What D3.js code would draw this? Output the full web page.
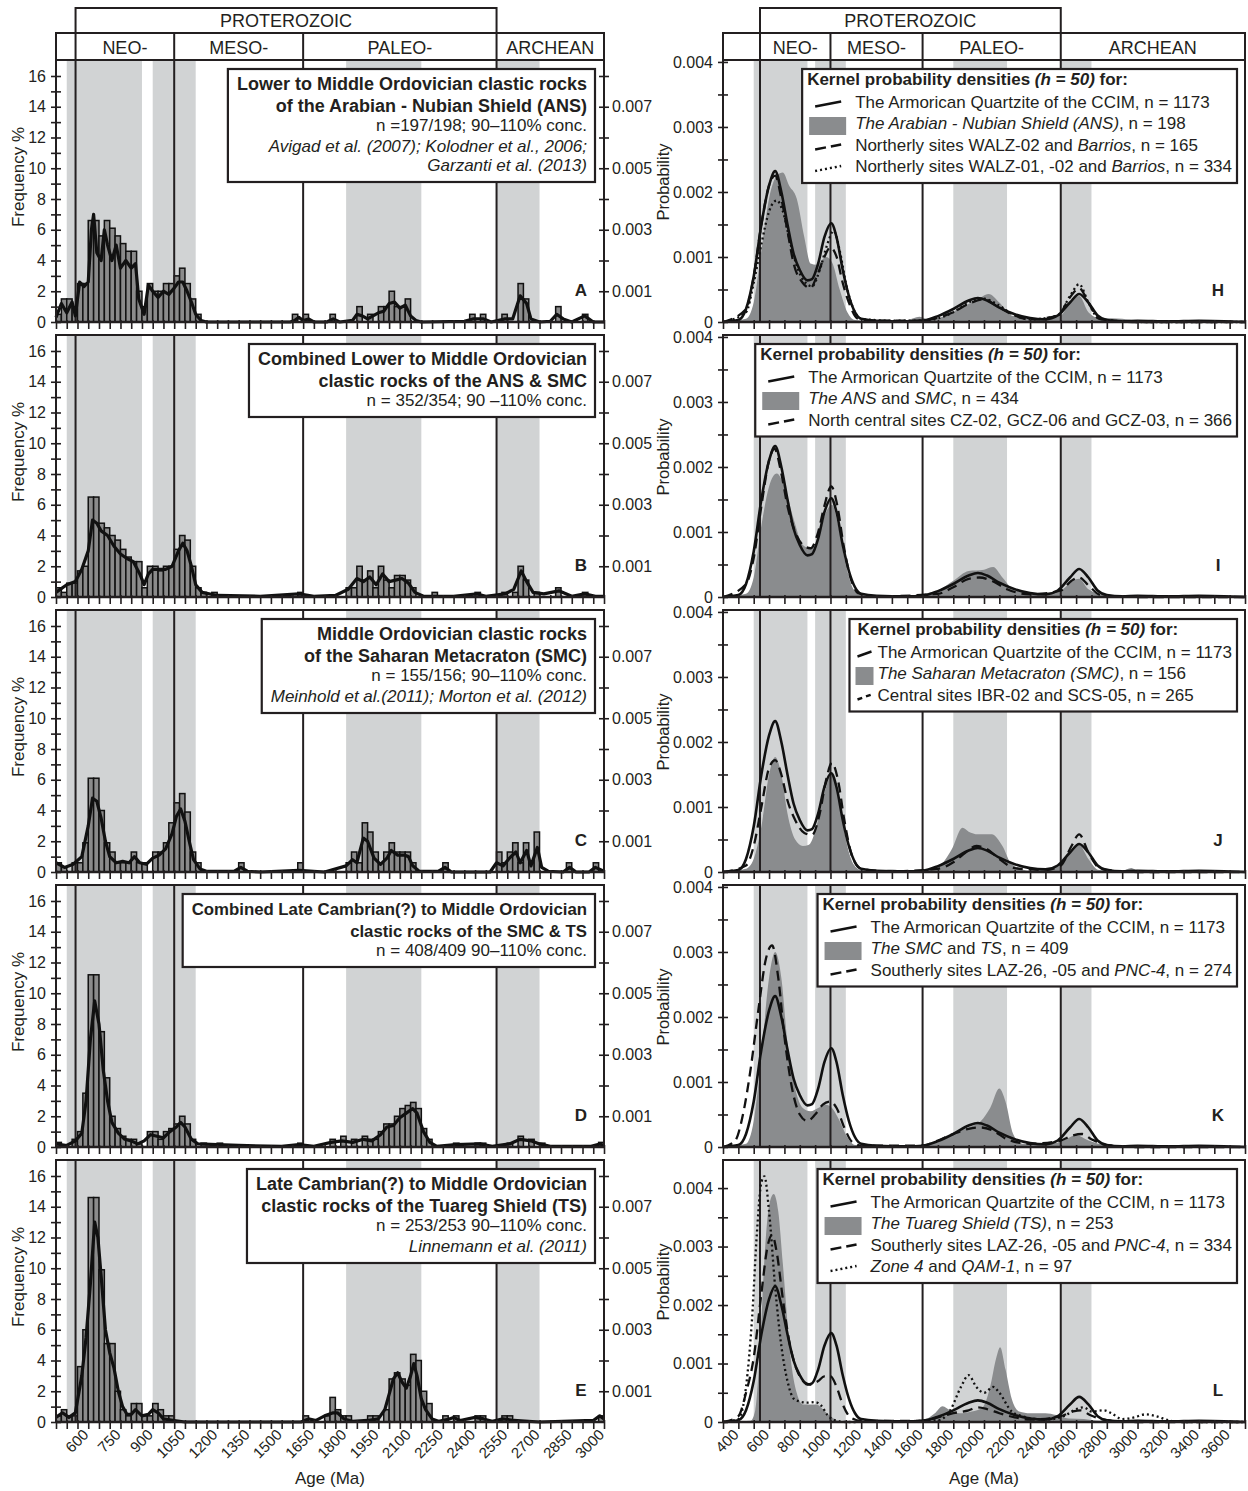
<!DOCTYPE html>
<html>
<head>
<meta charset="utf-8">
<script src="https://cdn.jsdelivr.net/npm/d3@7"></script>
<style>
  body { margin: 0; background: #fff; }
  svg text { font-family: "Liberation Sans", Arial, Helvetica, sans-serif; fill: #231f20; }
</style>
</head>
<body>
<svg width="1248" height="1491"></svg>
<script>
// ---------- data ----------
const bands = [[500, 850], [900, 1100], [1800, 2150], [2500, 2700]];
const boundaries = [541, 1000, 1600, 2500];
const eraCells = [["NEO-", 541, 1000], ["MESO-", 1000, 1600], ["PALEO-", 1600, 2500], ["ARCHEAN", 2500, null]];
const binWidth = 25;

// histogram bins: [bin start (Ma), frequency %]
const histA = [[450,0.5],[475,1.5],[500,1.5],[525,1.0],[550,2.5],[575,2.5],[600,6.6],[625,6.6],[650,5.6],[675,6.6],[700,6.1],[725,5.6],[750,5.1],[775,4.6],[800,4.6],[825,2.0],[850,1.0],[875,2.5],[900,2.0],[925,2.0],[950,2.5],[975,2.5],[1000,3.0],[1025,3.5],[1050,2.5],[1075,1.5],[1100,0.5],[1550,0.5],[1600,0.5],[1725,0.5],[1850,1.0],[1900,0.5],[1950,1.0],[1975,1.0],[2000,2.0],[2025,1.0],[2050,1.0],[2075,1.5],[2375,0.5],[2425,0.5],[2525,0.5],[2600,2.5],[2625,1.5],[2775,1.0],[2900,0.5]];
const histB = [[450,0.6],[475,0.3],[500,0.9],[525,0.9],[550,1.7],[575,2.0],[600,6.5],[625,6.5],[650,4.8],[675,4.5],[700,4.0],[725,3.7],[750,3.1],[775,2.6],[800,2.3],[825,2.3],[850,0.6],[875,2.0],[900,2.0],[925,1.7],[950,2.0],[975,2.0],[1000,3.1],[1025,4.0],[1050,3.7],[1075,2.0],[1100,0.6],[1125,0.3],[1175,0.3],[1575,0.3],[1800,0.6],[1825,0.6],[1850,2.0],[1875,1.1],[1900,1.7],[1925,0.6],[1950,2.0],[1975,1.1],[2000,0.6],[2025,1.4],[2050,1.4],[2075,1.1],[2100,0.6],[2200,0.3],[2400,0.3],[2525,0.3],[2575,0.3],[2600,2.0],[2625,1.1],[2675,0.3],[2775,0.6],[2900,0.3]];
const histC = [[450,0.6],[475,0.3],[525,0.6],[550,0.6],[575,1.9],[600,6.1],[625,6.1],[650,4.0],[675,1.9],[700,1.3],[725,0.6],[750,0.6],[775,0.6],[800,1.3],[825,0.6],[850,0.6],[900,1.3],[925,1.3],[950,1.9],[975,3.2],[1000,4.5],[1025,5.1],[1050,3.9],[1075,1.3],[1100,0.6],[1300,0.6],[1575,0.6],[1800,0.6],[1825,1.3],[1850,0.6],[1875,3.2],[1900,2.6],[1925,1.3],[1950,0.6],[1975,1.3],[2000,1.9],[2025,1.3],[2050,1.3],[2075,1.3],[2100,0.6],[2250,0.6],[2500,1.3],[2525,0.6],[2550,1.3],[2575,1.9],[2600,0.6],[2625,1.9],[2650,0.6],[2675,2.6],[2825,0.6],[2950,0.6]];
const histD = [[450,0.3],[525,0.5],[550,1.0],[575,3.5],[600,11.2],[625,11.2],[650,7.5],[675,4.5],[700,2.0],[725,1.2],[750,0.7],[775,0.5],[800,0.5],[825,0.2],[875,1.0],[900,1.0],[925,0.5],[950,1.0],[975,1.2],[1000,1.5],[1025,2.0],[1050,1.5],[1075,0.5],[1125,0.25],[1200,0.25],[1575,0.25],[1725,0.5],[1775,0.7],[1825,0.5],[1875,0.7],[1900,0.5],[1925,0.5],[1950,1.0],[1975,1.5],[2000,1.5],[2025,2.0],[2050,2.5],[2075,2.7],[2100,2.9],[2125,2.5],[2150,1.2],[2175,0.5],[2300,0.25],[2400,0.25],[2425,0.25],[2550,0.25],[2600,0.7],[2650,0.5],[2700,0.25],[2975,0.3]];
const histE = [[450,0.4],[475,0.8],[500,0.4],[525,0.4],[550,3.6],[575,6.0],[600,14.6],[625,14.6],[650,9.9],[675,5.1],[700,5.1],[725,2.0],[750,0.8],[775,0.4],[800,1.2],[825,1.2],[850,0.4],[875,0.4],[900,1.2],[925,0.8],[950,0.4],[975,0.4],[1600,0.4],[1700,0.4],[1725,1.6],[1750,0.8],[1775,0.4],[1800,0.4],[1900,0.4],[1925,0.4],[1975,0.8],[2000,2.8],[2025,3.2],[2050,2.8],[2075,2.4],[2100,4.4],[2125,4.0],[2150,2.0],[2175,1.2],[2250,0.4],[2300,0.4],[2400,0.4],[2425,0.4],[2525,0.4],[2550,0.4],[2975,0.4]];

// probability density lines of the histograms, read against the frequency axis
const lineA = [[450,0.3],[475,1.2],[500,0.6],[525,1.3],[540,0.4],[560,2.6],[580,2.3],[600,2.6],[615,6.0],[625,7.0],[640,4.5],[660,4.0],[675,6.0],[690,5.0],[710,4.0],[730,5.0],[750,3.5],[775,4.0],[800,3.5],[820,3.8],[835,1.5],[860,0.5],[880,2.4],[900,2.0],[925,1.6],[950,2.0],[975,1.8],[1000,2.2],[1020,2.6],[1040,2.6],[1060,2.0],[1080,1.3],[1100,0.5],[1125,0.1],[1150,0],[1540,0],[1560,0.1],[1580,0.3],[1600,0.1],[1625,0.2],[1650,0],[1710,0],[1740,0.2],[1770,0],[1830,0.1],[1850,0.5],[1875,0.4],[1900,0.2],[1925,0.4],[1950,0.6],[1975,0.7],[2000,1.2],[2025,1.3],[2050,0.9],[2075,1.1],[2100,0.4],[2125,0.1],[2150,0],[2350,0.05],[2390,0.2],[2440,0.2],[2475,0],[2540,0.2],[2575,0.2],[2610,1.7],[2640,1.2],[2660,0.2],[2700,0],[2750,0.05],[2780,0.5],[2810,0.2],[2850,0],[2910,0.4],[2950,0],[3000,0]];
const lineB = [[450,0.3],[500,0.8],[540,1.0],[570,1.8],[600,3.0],[620,5.0],[640,4.8],[660,4.3],[690,4.0],[720,3.3],[750,2.8],[780,2.5],[810,2.3],[840,1.5],[860,0.8],[880,1.5],[900,1.8],[930,1.8],[960,1.8],[990,2.0],[1020,3.0],[1040,3.5],[1060,3.0],[1080,2.0],[1100,0.8],[1130,0.3],[1200,0.1],[1400,0.05],[1580,0.2],[1650,0.05],[1750,0.1],[1810,0.5],[1850,1.2],[1880,1.0],[1910,1.3],[1940,0.8],[1970,1.5],[2000,1.0],[2030,1.1],[2060,1.2],[2090,0.9],[2120,0.3],[2160,0.05],[2300,0.05],[2410,0.2],[2450,0.05],[2540,0.2],[2580,0.5],[2615,1.7],[2640,1.0],[2670,0.3],[2720,0.2],[2790,0.4],[2850,0.05],[2910,0.2],[2960,0.05],[3000,0.05]];
const lineC = [[450,0.6],[490,0.3],[530,0.5],[570,1.0],[600,3.0],[620,4.8],[640,4.6],[660,3.5],[680,2.0],[700,1.0],[730,0.6],[760,0.7],[790,0.6],[815,1.0],[840,0.6],[870,0.5],[900,0.9],[930,1.1],[960,1.5],[990,2.5],[1010,3.6],[1030,4.1],[1050,3.3],[1070,2.0],[1090,0.8],[1120,0.2],[1150,0.05],[1280,0.05],[1310,0.3],[1340,0.05],[1400,0],[1580,0.1],[1700,0],[1800,0.4],[1830,0.8],[1850,0.6],[1880,2.2],[1900,2.0],[1930,0.9],[1960,0.5],[1990,0.9],[2010,1.4],[2040,1.1],[2070,1.1],[2090,1.0],[2110,0.4],[2140,0.05],[2230,0.05],[2260,0.3],[2290,0],[2470,0],[2500,0.6],[2530,0.4],[2560,0.9],[2590,1.3],[2610,0.6],[2640,1.4],[2660,0.4],[2690,1.6],[2710,0.3],[2740,0.05],[2810,0],[2840,0.3],[2870,0],[2930,0],[2960,0.3],[3000,0.05]];
const lineD = [[450,0.2],[500,0.1],[540,0.4],[570,0.9],[590,3.0],[610,7.0],[630,9.5],[650,8.0],[670,5.0],[690,3.0],[710,1.6],[740,0.9],[770,0.5],[800,0.4],[830,0.2],[860,0.4],[890,0.8],[920,0.7],[950,0.6],[980,1.0],[1010,1.3],[1030,1.6],[1050,1.3],[1080,0.5],[1110,0.2],[1200,0.15],[1300,0.1],[1500,0.05],[1580,0.15],[1650,0.05],[1730,0.3],[1780,0.4],[1830,0.3],[1880,0.5],[1920,0.4],[1960,0.8],[1990,1.3],[2020,1.4],[2050,1.9],[2080,2.2],[2110,2.5],[2130,2.2],[2160,1.0],[2190,0.3],[2220,0.05],[2310,0.15],[2420,0.2],[2480,0.05],[2560,0.2],[2610,0.5],[2660,0.4],[2700,0.2],[2750,0.05],[2940,0.05],[2980,0.2],[3000,0.1]];
const lineE = [[450,0.3],[480,0.6],[510,0.3],[540,0.6],[570,3.0],[590,5.5],[610,9.0],[630,13.0],[645,12.0],[660,9.5],[680,6.0],[700,4.5],[720,3.5],[740,2.0],[760,1.0],[780,0.5],[800,0.5],[820,0.8],[850,0.4],[880,0.5],[900,0.8],[925,0.6],[950,0.2],[1000,0.1],[1050,0],[1590,0],[1625,0.2],[1660,0.1],[1700,0.4],[1740,0.6],[1760,0.6],[1790,0.2],[1830,0.05],[1900,0.1],[1950,0.2],[1980,0.8],[2000,1.8],[2020,2.8],[2040,3.2],[2060,2.6],[2080,2.2],[2100,3.0],[2115,3.8],[2130,3.0],[2150,1.5],[2170,0.8],[2200,0.2],[2230,0.05],[2270,0.15],[2300,0.3],[2330,0.1],[2400,0.3],[2440,0.2],[2480,0.05],[2530,0.2],[2580,0.1],[2700,0],[2950,0.1],[2980,0.4],[3000,0.2]];

// kernel density estimates: [age (Ma), probability]
const kdeCCIM = [[300,0],[400,0.00003],[450,0.0002],[500,0.0007],[550,0.0015],[600,0.0021],[640,0.00232],[680,0.002],[720,0.0015],[760,0.00105],[800,0.0008],[850,0.00064],[880,0.00066],[920,0.0009],[960,0.0013],[1005,0.00152],[1040,0.0013],[1080,0.0008],[1120,0.0004],[1160,0.00015],[1200,0.00005],[1300,0.00002],[1500,0.00001],[1600,0.00002],[1700,0.00009],[1800,0.0002],[1900,0.00033],[1960,0.00037],[2020,0.00033],[2100,0.00022],[2200,0.00012],[2300,0.00006],[2400,0.00004],[2480,0.0001],[2560,0.0003],[2620,0.00043],[2680,0.0003],[2740,0.0001],[2800,0.00003],[2900,0.00001],[3000,0.00002],[3200,0.00001],[3400,0.00002],[3700,0]];
const kdeANS = [[300,0],[450,0.00005],[500,0.0003],[550,0.0011],[600,0.0019],[650,0.00225],[690,0.0023],[730,0.0021],[780,0.0019],[830,0.0013],[870,0.0009],[910,0.00088],[970,0.001],[1010,0.00092],[1060,0.0005],[1110,0.00015],[1160,0.00003],[1300,0.00001],[1500,0.00003],[1580,0.00008],[1650,0.00003],[1750,0.0001],[1850,0.00022],[1950,0.00033],[2030,0.00043],[2100,0.0003],[2180,0.0001],[2300,0.00005],[2400,0.00006],[2500,0.0001],[2560,0.0003],[2620,0.0004],[2680,0.00015],[2750,0.00006],[2900,0.00005],[3000,0.00002],[3700,0]];
const kdeWALZ02 = [[300,0],[450,0.0002],[500,0.0007],[550,0.0015],[600,0.0021],[640,0.00225],[680,0.0019],[720,0.0014],[760,0.0009],[820,0.0006],[870,0.00052],[910,0.0007],[960,0.001],[1000,0.00115],[1040,0.001],[1080,0.0006],[1120,0.0003],[1180,0.00005],[1300,0.00002],[1550,0.00002],[1800,0.00015],[1900,0.00028],[2000,0.00035],[2080,0.00025],[2200,0.0001],[2300,0.00004],[2480,0.0001],[2560,0.00038],[2620,0.00052],[2680,0.0003],[2750,0.00005],[3000,0],[3700,0]];
const kdeWALZ01 = [[300,0],[450,0.00015],[500,0.0006],[550,0.0012],[600,0.0017],[650,0.00187],[690,0.0017],[740,0.0012],[790,0.0008],[840,0.0006],[880,0.00055],[930,0.0008],[980,0.0012],[1020,0.0014],[1060,0.0011],[1100,0.0006],[1150,0.0002],[1200,0.00005],[1400,0.00002],[1600,0.00002],[1800,0.00015],[1900,0.0003],[2000,0.00036],[2080,0.00028],[2200,0.0001],[2300,0.00004],[2480,0.0001],[2560,0.0004],[2620,0.00058],[2680,0.0003],[2750,0.00005],[3000,0],[3700,0]];
const kdeANSSMC = [[300,0],[450,0.00005],[500,0.0003],[550,0.0011],[600,0.0017],[650,0.0019],[700,0.0017],[760,0.0012],[820,0.0008],[870,0.00075],[920,0.0009],[970,0.0013],[1010,0.00142],[1050,0.0011],[1100,0.0005],[1150,0.00012],[1200,0.00003],[1500,0.00002],[1600,0.00005],[1700,0.0001],[1800,0.00025],[1900,0.0004],[2000,0.00042],[2060,0.00046],[2120,0.0003],[2200,0.0001],[2400,0.00005],[2500,0.0001],[2580,0.00025],[2620,0.00028],[2680,0.00012],[2800,0.00003],[3000,0.00002],[3700,0]];
const kdeNorthCentral = [[300,0],[450,0.0002],[500,0.0006],[550,0.0014],[600,0.0021],[635,0.00228],[680,0.0019],[720,0.0014],[770,0.001],[820,0.0008],[870,0.00075],[920,0.001],[960,0.0014],[1005,0.0017],[1045,0.0014],[1085,0.0008],[1130,0.0003],[1180,0.00006],[1300,0.00001],[1700,0.00005],[1800,0.00015],[1900,0.00028],[1970,0.0003],[2050,0.00025],[2150,0.00012],[2300,0.00004],[2500,0.0001],[2570,0.00025],[2620,0.0003],[2680,0.00018],[2760,0.00003],[3000,0],[3700,0]];
const kdeSMC = [[300,0],[450,0.00005],[500,0.0002],[550,0.0007],[600,0.0015],[640,0.00177],[680,0.0015],[720,0.0009],[770,0.0005],[820,0.0004],[860,0.00042],[920,0.0008],[970,0.0013],[1010,0.0015],[1050,0.0012],[1100,0.0005],[1150,0.00012],[1200,0.00003],[1300,0.00002],[1400,0.00004],[1500,0.00001],[1600,0.00003],[1700,0.00008],[1790,0.00035],[1860,0.00068],[1900,0.00062],[1960,0.00058],[2050,0.00058],[2120,0.0004],[2180,0.00012],[2300,0.00002],[2480,0.00008],[2560,0.00032],[2620,0.00042],[2680,0.0002],[2750,0.00003],[2900,0.00002],[2960,0.00006],[3000,0.00002],[3700,0]];
const kdeCentral = [[300,0],[450,0.0001],[500,0.0004],[550,0.001],[600,0.0016],[640,0.00172],[680,0.0015],[720,0.0011],[770,0.0008],[830,0.0006],[880,0.00057],[930,0.0009],[970,0.0014],[1010,0.00168],[1050,0.0014],[1090,0.0008],[1140,0.00025],[1200,0.00005],[1400,0.00001],[1700,0.00005],[1800,0.00015],[1880,0.0003],[1950,0.0004],[2020,0.00035],[2100,0.0002],[2200,0.00006],[2400,0.00003],[2500,0.0001],[2570,0.0004],[2620,0.00058],[2680,0.0003],[2760,0.00005],[3000,0],[3700,0]];
const kdeSMCTS = [[300,0],[450,0.00005],[500,0.0004],[550,0.0014],[600,0.0026],[640,0.003],[680,0.0026],[720,0.0016],[770,0.0009],[820,0.0006],[870,0.00055],[920,0.0006],[970,0.00065],[1010,0.0006],[1060,0.0004],[1110,0.00015],[1160,0.00003],[1400,0.00002],[1600,0.00003],[1700,0.0001],[1800,0.0002],[1900,0.0003],[1980,0.0004],[2040,0.0006],[2100,0.0009],[2140,0.0007],[2190,0.0002],[2250,0.00005],[2400,0.00004],[2500,0.00008],[2600,0.00018],[2680,0.0001],[2800,0.00003],[3000,0.00002],[3700,0]];
const kdeSouth274 = [[300,0],[380,0.0001],[430,0.0005],[480,0.0012],[530,0.0021],[580,0.0029],[620,0.0031],[660,0.0026],[700,0.0017],[750,0.0009],[800,0.0005],[850,0.0004],[900,0.0005],[950,0.00065],[1000,0.0007],[1040,0.0006],[1090,0.0003],[1140,0.00008],[1200,0.00002],[1600,0.00002],[1700,0.0001],[1800,0.0002],[1900,0.00028],[1980,0.0003],[2060,0.00025],[2150,0.00012],[2300,0.00005],[2500,0.0001],[2580,0.00018],[2640,0.0002],[2700,0.00012],[2800,0.00003],[3000,0],[3700,0]];
const kdeTS = [[300,0],[480,0.00002],[510,0.0002],[540,0.0012],[570,0.0028],[600,0.0037],[630,0.0039],[660,0.0036],[690,0.0027],[720,0.0017],[750,0.0009],[780,0.0005],[820,0.0003],[870,0.0003],[910,0.0003],[950,0.00022],[990,0.00012],[1050,0.00002],[1100,0],[1500,0.00001],[1620,0.00005],[1680,0.00015],[1730,0.00027],[1780,0.0002],[1840,0.00015],[1920,0.00018],[1990,0.00025],[2040,0.0006],[2080,0.0011],[2105,0.00128],[2140,0.0009],[2180,0.0004],[2230,0.00018],[2300,0.00015],[2400,0.00015],[2470,0.00012],[2550,0.00006],[2650,0.00005],[2750,0.00002],[3000,0.00004],[3200,0.00002],[3400,0.00003],[3500,0.00002],[3700,0]];
const kdeSouth334 = [[300,0],[400,0.0001],[450,0.0005],[500,0.0011],[550,0.0022],[590,0.003],[620,0.0032],[650,0.0029],[690,0.0021],[730,0.0014],[780,0.0009],[830,0.00068],[870,0.00064],[920,0.0007],[960,0.00078],[1000,0.00078],[1040,0.0006],[1080,0.0003],[1130,0.00008],[1200,0.00002],[1600,0.00002],[1700,0.00008],[1800,0.00015],[1900,0.0002],[1960,0.00025],[2020,0.00022],[2100,0.00015],[2200,0.00008],[2300,0.00004],[2500,0.0001],[2580,0.00018],[2630,0.0002],[2690,0.00012],[2800,0.00003],[3000,0],[3700,0]];
const kdeZone4 = [[300,0],[400,0.00005],[450,0.0006],[490,0.0018],[520,0.0032],[550,0.0041],[570,0.0042],[600,0.0036],[640,0.0023],[680,0.0013],[720,0.0007],[760,0.0004],[800,0.00035],[850,0.00033],[900,0.00034],[940,0.00028],[980,0.00012],[1030,0.00003],[1100,0],[1700,0.00003],[1780,0.0002],[1850,0.0006],[1900,0.0008],[1950,0.0006],[2000,0.0005],[2060,0.0006],[2100,0.0005],[2180,0.00018],[2250,0.0001],[2400,0.00004],[2520,0.0001],[2600,0.00022],[2650,0.00025],[2700,0.00018],[2780,0.0002],[2830,0.00015],[2900,0.00005],[2980,0.00008],[3050,0.00013],[3120,0.0001],[3200,0.00003],[3300,0],[3700,0]];

const leftPanels = [
  { id: "A", hist: histA, line: lineA, boldSize: 18, text: [
    ["Lower to Middle Ordovician clastic rocks", "b"], ["of the Arabian - Nubian Shield (ANS)", "b"],
    ["n =197/198; 90\u2013110% conc.", "n"], ["Avigad et al. (2007); Kolodner et al., 2006;", "i"], ["Garzanti et al. (2013)", "i"]] },
  { id: "B", hist: histB, line: lineB, boldSize: 18, text: [
    ["Combined Lower to Middle Ordovician", "b"], ["clastic rocks of the ANS & SMC", "b"],
    ["n = 352/354; 90 \u2013110% conc.", "n"]] },
  { id: "C", hist: histC, line: lineC, boldSize: 18, text: [
    ["Middle Ordovician clastic rocks", "b"], ["of the Saharan Metacraton (SMC)", "b"],
    ["n = 155/156; 90\u2013110% conc.", "n"], ["Meinhold et al.(2011); Morton et al. (2012)", "i"]] },
  { id: "D", hist: histD, line: lineD, boldSize: 16.8, text: [
    ["Combined Late Cambrian(?) to Middle Ordovician", "b"], ["clastic rocks of the SMC & TS", "b"],
    ["n = 408/409 90\u2013110% conc.", "n"]] },
  { id: "E", hist: histE, line: lineE, boldSize: 18, text: [
    ["Late Cambrian(?) to Middle Ordovician", "b"], ["clastic rocks of the Tuareg Shield (TS)", "b"],
    ["n = 253/253 90\u2013110% conc.", "n"], ["Linnemann et al. (2011)", "i"]] }
];

const ccimRow = { sym: "solid", data: kdeCCIM, parts: [["The Armorican Quartzite of the CCIM, n = 1173"]] };
const rightPanels = [
  { id: "H", yMax: 0.00403, fill: kdeANS, compact: false, rows: [ccimRow,
    { sym: "fill", parts: [["The Arabian - Nubian Shield (ANS)", "i"], [", n = 198"]] },
    { sym: "dashed", data: kdeWALZ02, parts: [["Northerly sites WALZ-02 and "], ["Barrios", "i"], [", n = 165"]] },
    { sym: "dotted", data: kdeWALZ01, parts: [["Northerly sites WALZ-01, -02 and "], ["Barrios", "i"], [", n = 334"]] }] },
  { id: "I", yMax: 0.00403, fill: kdeANSSMC, compact: false, rows: [ccimRow,
    { sym: "fill", parts: [["The ANS", "i"], [" and "], ["SMC", "i"], [", n = 434"]] },
    { sym: "dashed", data: kdeNorthCentral, parts: [["North central sites CZ-02, GCZ-06 and GCZ-03, n = 366"]] }] },
  { id: "J", yMax: 0.00403, fill: kdeSMC, compact: true, rows: [ccimRow,
    { sym: "fill", parts: [["The Saharan Metacraton (SMC)", "i"], [", n = 156"]] },
    { sym: "dashed", data: kdeCentral, parts: [["Central sites IBR-02 and SCS-05, n = 265"]] }] },
  { id: "K", yMax: 0.00403, fill: kdeSMCTS, compact: false, rows: [ccimRow,
    { sym: "fill", parts: [["The SMC", "i"], [" and "], ["TS", "i"], [", n = 409"]] },
    { sym: "dashed", data: kdeSouth274, parts: [["Southerly sites LAZ-26, -05 and "], ["PNC-4", "i"], [", n = 274"]] }] },
  { id: "L", yMax: 0.00448, fill: kdeTS, compact: false, rows: [ccimRow,
    { sym: "fill", parts: [["The Tuareg Shield (TS)", "i"], [", n = 253"]] },
    { sym: "dashed", data: kdeSouth334, parts: [["Southerly sites LAZ-26, -05 and "], ["PNC-4", "i"], [", n = 334"]] },
    { sym: "dotted", data: kdeZone4, parts: [["Zone 4", "i"], [" and "], ["QAM-1", "i"], [", n = 97"]] }] }
];

// ---------- layout ----------
const svg = d3.select("svg");
const ink = "#231f20";
const bandColor = "#d1d3d4";
const barColor = "#8b8b8b";
const kdeFill = "#8a8c8e";
const panelH = 262;
const panelStep = 275;
const firstTop = 60;
const xLeft = d3.scaleLinear().domain([450, 3000]).range([56, 604]);
const xRight = d3.scaleLinear().domain([300, 3700]).range([723, 1245]);
const dashes = { solid: null, dashed: "10,6", dotted: "2,3" };

svg.append("rect").attr("width", 1248).attr("height", 1491).attr("fill", "#fff");

const header = (x) => {
  const g = svg.append("g");
  g.append("rect").attr("x", x(541)).attr("y", 8).attr("width", x(2500) - x(541)).attr("height", 25)
    .attr("fill", "none").attr("stroke", ink).attr("stroke-width", 2);
  g.append("text").attr("x", (x(541) + x(2500)) / 2).attr("y", 27).attr("text-anchor", "middle")
    .attr("font-size", 18).text("PROTEROZOIC");
  const [d0, d1] = x.domain();
  g.append("rect").attr("x", x(d0)).attr("y", 33).attr("width", x(d1) - x(d0)).attr("height", 27)
    .attr("fill", "none").attr("stroke", ink).attr("stroke-width", 2);
  eraCells.forEach(([label, a, b]) => {
    const end = b == null ? d1 : b;
    g.append("line").attr("x1", x(a)).attr("x2", x(a)).attr("y1", 33).attr("y2", 60)
      .attr("stroke", ink).attr("stroke-width", 2);
    g.append("text").attr("x", (x(a) + x(end)) / 2).attr("y", 53.5).attr("text-anchor", "middle")
      .attr("font-size", 18).text(label);
  });
};
header(xLeft);
header(xRight);

const styleFor = (s) => ({
  weight: s.includes("b") ? "bold" : "normal",
  style: s.includes("i") ? "italic" : "normal",
});

function drawBox(g, top, x, bot) {
  g.append("rect").attr("x", x.range()[0]).attr("y", top).attr("width", x.range()[1] - x.range()[0])
    .attr("height", bot - top).attr("fill", "none").attr("stroke", ink).attr("stroke-width", 2);
}

function drawBands(g, x, top, bot) {
  g.selectAll(".band").data(bands).join("rect").attr("class", "band")
    .attr("x", (d) => x(d[0])).attr("width", (d) => x(d[1]) - x(d[0]))
    .attr("y", top).attr("height", bot - top).attr("fill", bandColor);
}

function drawBounds(g, x, top, bot) {
  g.selectAll(".bound").data(boundaries).join("line").attr("class", "bound")
    .attr("x1", (d) => x(d)).attr("x2", (d) => x(d)).attr("y1", top).attr("y2", bot)
    .attr("stroke", ink).attr("stroke-width", 2);
}

function styleAxis(axisG, size) {
  axisG.select(".domain").remove();
  axisG.selectAll(".tick line").attr("stroke", ink).attr("stroke-width", 1.6);
  axisG.selectAll("text").attr("font-size", size).attr("fill", ink).attr("font-family", null);
}

function rotateLabels(xa) {
  xa.selectAll("text").attr("text-anchor", "end").attr("x", 0).attr("y", 0).attr("dy", "0.35em")
    .attr("transform", "translate(-3,10) rotate(-45)");
}

// ---------- left panels ----------
leftPanels.forEach((p, i) => {
  const top = firstTop + i * panelStep, bot = top + panelH;
  const g = svg.append("g");
  const y = d3.scaleLinear().domain([0, 17.04]).range([bot, top]);
  const yProb = d3.scaleLinear().domain([0, 17.04 * 0.0005]).range([bot, top]);

  drawBands(g, xLeft, top, bot);

  g.selectAll(".bar").data(p.hist).join("rect").attr("class", "bar")
    .attr("x", (d) => xLeft(d[0])).attr("width", (d) => xLeft(d[0] + binWidth) - xLeft(d[0]))
    .attr("y", (d) => y(d[1])).attr("height", (d) => bot - y(d[1]))
    .attr("fill", barColor).attr("stroke", "#111").attr("stroke-width", 1.5);

  drawBounds(g, xLeft, top, bot);

  g.append("path").datum(p.line)
    .attr("d", d3.line().x((d) => xLeft(d[0])).y((d) => y(d[1])))
    .attr("fill", "none").attr("stroke", "#111").attr("stroke-width", 3.2).attr("stroke-linejoin", "round");

  drawBox(g, top, xLeft, bot);

  const ya = g.append("g").attr("transform", `translate(${xLeft.range()[0]},0)`)
    .call(d3.axisLeft(y).tickValues(d3.range(0, 17)).tickSize(5).tickPadding(5)
      .tickFormat((d) => (d % 2 ? "" : d)));
  styleAxis(ya, 16);
  ya.selectAll(".tick line").attr("x1", 5);

  const yb = g.append("g").attr("transform", `translate(${xLeft.range()[1]},0)`)
    .call(d3.axisRight(yProb).tickValues(d3.range(1, 9).map((k) => k * 0.001)).tickSize(5).tickPadding(3)
      .tickFormat((d) => (Math.round(d * 1000) % 2 ? d3.format(".3f")(d) : "")));
  styleAxis(yb, 16);
  yb.selectAll(".tick line").attr("x1", -5);

  const xa = g.append("g").attr("transform", `translate(0,${bot})`)
    .call(d3.axisBottom(xLeft).tickValues(d3.range(450, 3001, 50)).tickSize(7)
      .tickFormat((d) => (i === 4 && d >= 600 && d % 150 === 0 ? d : "")));
  styleAxis(xa, 15);
  xa.selectAll(".tick line").attr("y1", -2);
  rotateLabels(xa);
  xa.append("line").attr("x1", xLeft.range()[0]).attr("x2", xLeft.range()[1]).attr("stroke", ink).attr("stroke-width", 2.5);

  g.append("text").attr("transform", `translate(24,${(top + bot) / 2 - 14}) rotate(-90)`)
    .attr("text-anchor", "middle").attr("font-size", 17).text("Frequency %");

  // legend
  const lg = g.append("g");
  const tx = 587;
  const offsets = [30, 52, 71, 92, 111];
  p.text.forEach(([t, s], k) => {
    const st = styleFor(s);
    lg.append("text").attr("x", tx).attr("y", top + offsets[k]).attr("text-anchor", "end")
      .attr("font-size", s === "b" ? p.boldSize : 17).attr("font-weight", st.weight).attr("font-style", st.style).text(t);
  });
  const bb = lg.node().getBBox();
  lg.insert("rect", "text").attr("x", bb.x - 9).attr("y", top + 9).attr("width", 595 - (bb.x - 9))
    .attr("height", offsets[p.text.length - 1] + 11 - 9)
    .attr("fill", "#fff").attr("stroke", ink).attr("stroke-width", 2.2);

  g.append("text").attr("x", 581).attr("y", bot - 26).attr("text-anchor", "middle")
    .attr("font-size", 17).attr("font-weight", "bold").text(p.id);
});

svg.append("text").attr("x", (xLeft.range()[0] + xLeft.range()[1]) / 2).attr("y", 1484)
  .attr("text-anchor", "middle").attr("font-size", 17).text("Age (Ma)");

// ---------- right panels ----------
rightPanels.forEach((p, i) => {
  const top = firstTop + i * panelStep, bot = top + panelH;
  const g = svg.append("g");
  const y = d3.scaleLinear().domain([0, p.yMax]).range([bot, top]);

  drawBands(g, xRight, top, bot);

  g.append("path").datum(p.fill)
    .attr("d", d3.area().x((d) => xRight(d[0])).y0(bot).y1((d) => y(d[1])).curve(d3.curveMonotoneX))
    .attr("fill", kdeFill);

  drawBounds(g, xRight, top, bot);

  const lineGen = d3.line().x((d) => xRight(d[0])).y((d) => y(d[1])).curve(d3.curveMonotoneX);
  p.rows.filter((r) => r.data).slice().reverse().forEach((r) => {
    g.append("path").datum(r.data).attr("d", lineGen).attr("fill", "none")
      .attr("stroke", "#111").attr("stroke-width", r.sym === "solid" ? 2.6 : 2.3)
      .attr("stroke-dasharray", dashes[r.sym]);
  });

  drawBox(g, top, xRight, bot);

  const ya = g.append("g").attr("transform", `translate(${xRight.range()[0]},0)`)
    .call(d3.axisLeft(y).tickValues(d3.range(0, 9).map((k) => k * 0.0005).filter((v) => v <= p.yMax))
      .tickSize(5).tickPadding(5)
      .tickFormat((d) => { const m = Math.round(d * 2000); return m === 0 ? "0" : m % 2 ? "" : d3.format(".3f")(d); }));
  styleAxis(ya, 16);
  ya.selectAll(".tick line").attr("x1", 5);

  const xa = g.append("g").attr("transform", `translate(0,${bot})`)
    .call(d3.axisBottom(xRight).tickValues(d3.range(300, 3701, 100)).tickSize(7)
      .tickFormat((d) => (i === 4 && d >= 400 && d <= 3600 && d % 200 === 0 ? d : "")));
  styleAxis(xa, 15);
  xa.selectAll(".tick line").attr("y1", -2);
  rotateLabels(xa);
  xa.append("line").attr("x1", xRight.range()[0]).attr("x2", xRight.range()[1]).attr("stroke", ink).attr("stroke-width", 2.5);

  g.append("text").attr("transform", `translate(669,${(top + bot) / 2 - 9}) rotate(-90)`)
    .attr("text-anchor", "middle").attr("font-size", 16.5).text("Probability");

  // legend (J uses a narrower symbol column)
  const sym = p.compact
    ? { title: 8, text: 28, x1: 8, x2: 22, rx: 6, rw: 18 }
    : { title: 5, text: 53, x1: 13, x2: 39, rx: 7, rw: 37 };
  const lg = g.append("g");
  const title = lg.append("text").attr("y", top + 25).attr("font-size", 17).attr("font-weight", "bold");
  title.append("tspan").text("Kernel probability densities ");
  title.append("tspan").attr("font-style", "italic").text("(h = 50)");
  title.append("tspan").text(" for:");
  const rowTexts = p.rows.map((r, k) => {
    const t = lg.append("text").attr("y", top + 47.5 + k * 21.5).attr("font-size", 17);
    r.parts.forEach(([s, st]) => t.append("tspan").attr("font-style", st === "i" ? "italic" : "normal").text(s));
    return t;
  });
  const wTitle = title.node().getComputedTextLength();
  const wRows = d3.max(rowTexts, (t) => t.node().getComputedTextLength());
  const boxW = Math.max(wTitle + sym.title, wRows + sym.text) + 5;
  const L = 1237 - boxW;
  title.attr("x", L + sym.title);
  rowTexts.forEach((t) => t.attr("x", L + sym.text));
  const boxBot = top + 47.5 + (p.rows.length - 1) * 21.5 + 11;
  lg.insert("rect", "text").attr("x", L).attr("y", top + 9).attr("width", boxW).attr("height", boxBot - top - 9)
    .attr("fill", "#fff").attr("stroke", ink).attr("stroke-width", 2.2);
  p.rows.forEach((r, k) => {
    const base = top + 47.5 + k * 21.5;
    if (r.sym === "fill") {
      lg.append("rect").attr("x", L + sym.rx).attr("y", base - 12).attr("width", sym.rw).attr("height", 18).attr("fill", kdeFill);
    } else {
      lg.append("line").attr("x1", L + sym.x1).attr("y1", base - 1).attr("x2", L + sym.x2).attr("y2", base - 6)
        .attr("stroke", "#111").attr("stroke-width", 2.4)
        .attr("stroke-dasharray", r.sym === "dashed" ? (p.compact ? "5,4" : "11,5") : dashes[r.sym]);
    }
  });

  g.append("text").attr("x", 1218).attr("y", bot - 26).attr("text-anchor", "middle")
    .attr("font-size", 17).attr("font-weight", "bold").text(p.id);
});

svg.append("text").attr("x", (xRight.range()[0] + xRight.range()[1]) / 2).attr("y", 1484)
  .attr("text-anchor", "middle").attr("font-size", 17).text("Age (Ma)");
</script>
</body>
</html>
